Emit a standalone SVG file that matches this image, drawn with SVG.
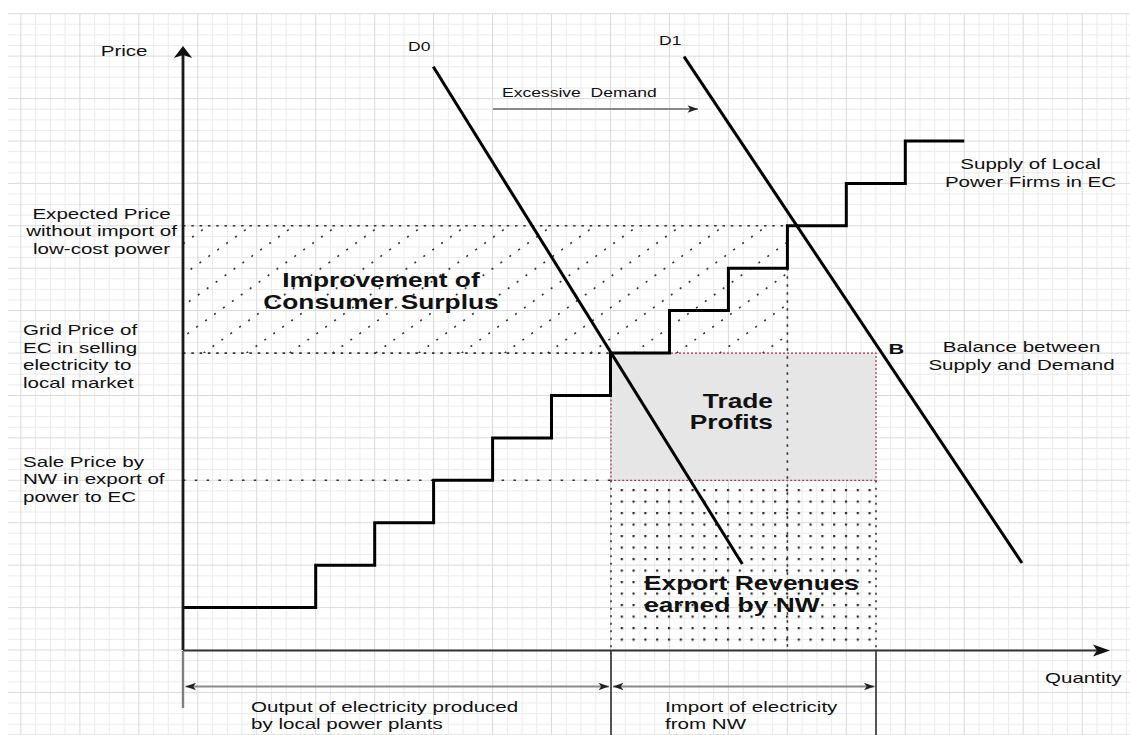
<svg xmlns="http://www.w3.org/2000/svg" width="1130" height="735" viewBox="0 0 1130 735">
<style>
.gmin{fill:none;stroke:#ebebeb;stroke-width:1}
.gmaj{fill:none;stroke:#dadada;stroke-width:1}
.t{font-family:"Liberation Sans",Arial,sans-serif;font-size:15px;fill:#111}
.s{font-size:12.7px}
.b{font-weight:bold;font-size:19.5px}
.dot{fill:none;stroke:#333;stroke-width:1.6}
.bold{fill:none;stroke:#000;stroke-width:3}
.dim{fill:none;stroke:#8a8a8a;stroke-width:2}
</style>
<defs>
<marker id="ah" markerUnits="userSpaceOnUse" markerWidth="14" markerHeight="10" viewBox="-12 -5 14 10" refX="0" refY="0" orient="auto-start-reverse">
<path d="M0 0L-10.5 -3.8L-7.8 0L-10.5 3.8Z" fill="#222"/>
</marker>
<pattern id="dots" patternUnits="userSpaceOnUse" x="620.7" y="489" width="11.8" height="11.5">
<rect width="2.2" height="2.2" fill="#2a2a2a"/>
</pattern>
<clipPath id="hclip"><rect x="183" y="225.8" width="604.4" height="127.3"/></clipPath>
</defs>
<rect width="1130" height="735" fill="#fff"/>
<g id="grid">
<path class="gmin" d="M35.6 13.7v722M50.4 13.7v722M65.1 13.7v722M94.6 13.7v722M109.3 13.7v722M124.1 13.7v722M153.6 13.7v722M168.3 13.7v722M183 13.7v722M212.5 13.7v722M227.3 13.7v722M242 13.7v722M271.5 13.7v722M286.2 13.7v722M301 13.7v722M330.4 13.7v722M345.2 13.7v722M359.9 13.7v722M389.4 13.7v722M404.1 13.7v722M418.9 13.7v722M448.4 13.7v722M463.1 13.7v722M477.8 13.7v722M507.3 13.7v722M522.1 13.7v722M536.8 13.7v722M566.3 13.7v722M581 13.7v722M595.8 13.7v722M625.2 13.7v722M640 13.7v722M654.7 13.7v722M684.2 13.7v722M698.9 13.7v722M713.7 13.7v722M743.2 13.7v722M757.9 13.7v722M772.6 13.7v722M802.1 13.7v722M816.9 13.7v722M831.6 13.7v722M861.1 13.7v722M875.8 13.7v722M890.6 13.7v722M920 13.7v722M934.8 13.7v722M949.5 13.7v722M979 13.7v722M993.7 13.7v722M1008.5 13.7v722M1038 13.7v722M1052.7 13.7v722M1067.4 13.7v722M1096.9 13.7v722M1111.7 13.7v722M1126.4 13.7v722
M8 24.3h1122M8 34.9h1122M8 45.5h1122M8 66.7h1122M8 77.3h1122M8 88h1122M8 109.2h1122M8 119.8h1122M8 130.4h1122M8 151.6h1122M8 162.2h1122M8 172.8h1122M8 194h1122M8 204.6h1122M8 215.2h1122M8 236.4h1122M8 247h1122M8 257.6h1122M8 278.8h1122M8 289.4h1122M8 300h1122M8 321.2h1122M8 331.8h1122M8 342.5h1122M8 363.7h1122M8 374.3h1122M8 384.9h1122M8 406.1h1122M8 416.7h1122M8 427.3h1122M8 448.5h1122M8 459.1h1122M8 469.7h1122M8 490.9h1122M8 501.5h1122M8 512.1h1122M8 533.3h1122M8 543.9h1122M8 554.6h1122M8 575.8h1122M8 586.4h1122M8 597h1122M8 618.2h1122M8 628.8h1122M8 639.4h1122M8 660.6h1122M8 671.2h1122M8 681.8h1122M8 703h1122M8 713.6h1122M8 724.2h1122"/>
<path class="gmaj" d="M20.9 13.7v722M79.9 13.7v722M138.8 13.7v722M197.8 13.7v722M256.7 13.7v722M315.7 13.7v722M374.7 13.7v722M433.6 13.7v722M492.6 13.7v722M551.5 13.7v722M610.5 13.7v722M669.5 13.7v722M728.4 13.7v722M787.4 13.7v722M846.3 13.7v722M905.3 13.7v722M964.3 13.7v722M1023.2 13.7v722M1082.2 13.7v722
M8 13.7h1122M8 56.1h1122M8 98.6h1122M8 141h1122M8 183.4h1122M8 225.8h1122M8 268.2h1122M8 310.6h1122M8 353.1h1122M8 395.5h1122M8 437.9h1122M8 480.3h1122M8 522.7h1122M8 565.2h1122M8 607.6h1122M8 650h1122M8 692.4h1122M8 734.8h1122"/>
</g>
<g id="consumer-surplus-area">
<path class="dot" clip-path="url(#hclip)" stroke-width="2" stroke-dasharray="2 9" d="M31.6 353.1L208 225.8M74.6 353.1L251 225.8M117.6 353.1L294 225.8M160.6 353.1L337 225.8M203.6 353.1L380 225.8M246.6 353.1L423 225.8M289.6 353.1L466 225.8M332.6 353.1L509 225.8M375.6 353.1L552 225.8M418.6 353.1L595 225.8M461.6 353.1L638 225.8M504.6 353.1L681 225.8M547.6 353.1L724 225.8M590.6 353.1L767 225.8M633.6 353.1L810 225.8M676.6 353.1L853 225.8M719.6 353.1L896 225.8M762.6 353.1L939 225.8"/>
<path class="dot" stroke-dasharray="2.5 5.8" d="M183 225.8H787.4M183 353.1H611"/>
</g>
<g id="export-revenues-area">
<rect x="612.5" y="482" width="262.5" height="166" fill="url(#dots)"/>
<path class="dot" stroke-dasharray="2 5.5" d="M611 480.3V650M876 480.3V650"/>
</g>
<g id="trade-profits-area">
<rect x="611" y="353.1" width="265" height="127.2" fill="#e6e6e6" stroke="#a2364a" stroke-width="1.2" stroke-dasharray="2 2"/>
</g>
<g id="guides">
<path class="dot" stroke-width="2" stroke-dasharray="2.5 9.3" d="M183 480.3H611"/>
<path class="dot" stroke-dasharray="2.5 5.5" d="M787.4 268.2V650"/>
</g>
<g id="supply-curve">
<path class="bold" stroke-linejoin="miter" d="M183 607.6H315.7V565.2H374.7V522.7H433.6V480.3H492.6V437.9H551.5V395.5H610.5V353.1H669.5V310.6H728.4V268.2H787.4V225.8H846.3V183.4H905.3V141H964.3"/>
</g>
<g id="demand-d0"><path class="bold" d="M433.3 66.7L742.3 564"/></g>
<g id="demand-d1"><path class="bold" d="M684 56.7L1022 563"/></g>
<g id="axes">
<path fill="none" stroke="#1a1a1a" stroke-width="2.8" d="M183 650V54"/>
<path d="M183 46L192.2 58L183 55L173.8 58Z" fill="#111"/>
<path fill="none" stroke="#333" stroke-width="2" d="M183 650.5H1097"/>
<path d="M1110 650.5L1093 644.5L1097 650.5L1093 656.5Z" fill="#111"/>
<path fill="none" stroke="#808080" stroke-width="2.4" d="M183 651V708"/>
<path fill="none" stroke="#444" stroke-width="1.8" d="M611 651V735M876 651V735"/>
</g>
<g id="connectors">
<path class="dim" marker-start="url(#ah)" marker-end="url(#ah)" d="M185.5 686.5H609"/>
<path class="dim" marker-start="url(#ah)" marker-end="url(#ah)" d="M613 686.5H874.5"/>
<path class="dim" stroke="#7a7a7a" marker-end="url(#ah)" d="M493 109H698"/>
</g>
<g id="labels">
<text class="t" transform="translate(100.7 56) scale(1.37 1)">Price</text>
<text class="t" text-anchor="middle" transform="translate(101.5 218.5) scale(1.37 1)"><tspan x="0" y="0">Expected Price</tspan><tspan x="0" dy="17.6">without import of</tspan><tspan x="0" dy="17.6">low-cost power</tspan></text>
<text class="t" transform="translate(23 335) scale(1.37 1)"><tspan x="0" y="0">Grid Price of</tspan><tspan x="0" dy="17.6">EC in selling</tspan><tspan x="0" dy="17.6">electricity to</tspan><tspan x="0" dy="17.6">local market</tspan></text>
<text class="t" transform="translate(23 466.7) scale(1.37 1)"><tspan x="0" y="0">Sale Price by</tspan><tspan x="0" dy="17.6">NW in export of</tspan><tspan x="0" dy="17.6">power to EC</tspan></text>
<text class="t s" transform="translate(408 50.7) scale(1.38 1)">D0</text>
<text class="t s" transform="translate(659 45) scale(1.38 1)">D1</text>
<text class="t s" xml:space="preserve" transform="translate(502 96.7) scale(1.38 1)">Excessive  Demand</text>
<text class="t" text-anchor="middle" transform="translate(1030.5 169.2) scale(1.37 1)"><tspan x="0" y="0">Supply of Local</tspan><tspan x="0" dy="17.6">Power Firms in EC</tspan></text>
<text class="t" text-anchor="middle" transform="translate(1021.5 352.3) scale(1.37 1)"><tspan x="0" y="0">Balance between</tspan><tspan x="0" dy="17.7">Supply and Demand</tspan></text>
<text class="t" font-weight="bold" font-size="17px" transform="translate(888.5 353.5) scale(1.45 1)">B</text>
<text class="t b" text-anchor="middle" transform="translate(381 287.3) scale(1.35 1)"><tspan x="0" y="0">Improvement of</tspan><tspan x="0" dy="22">Consumer Surplus</tspan></text>
<text class="t b" text-anchor="end" transform="translate(773 407.7) scale(1.35 1)"><tspan x="0" y="0">Trade</tspan><tspan x="0" dy="21.6">Profits</tspan></text>
<text class="t b" transform="translate(644 590) scale(1.35 1)"><tspan x="0" y="0">Export Revenues</tspan><tspan x="0" dy="22.5">earned by NW</tspan></text>
<text class="t" transform="translate(1045 683.3) scale(1.37 1)">Quantity</text>
<text class="t" transform="translate(251 711.5) scale(1.37 1)"><tspan x="0" y="0">Output of electricity produced</tspan><tspan x="0" dy="17.6">by local power plants</tspan></text>
<text class="t" transform="translate(665 711.5) scale(1.37 1)"><tspan x="0" y="0">Import of electricity</tspan><tspan x="0" dy="17.6">from NW</tspan></text>
</g>
</svg>
